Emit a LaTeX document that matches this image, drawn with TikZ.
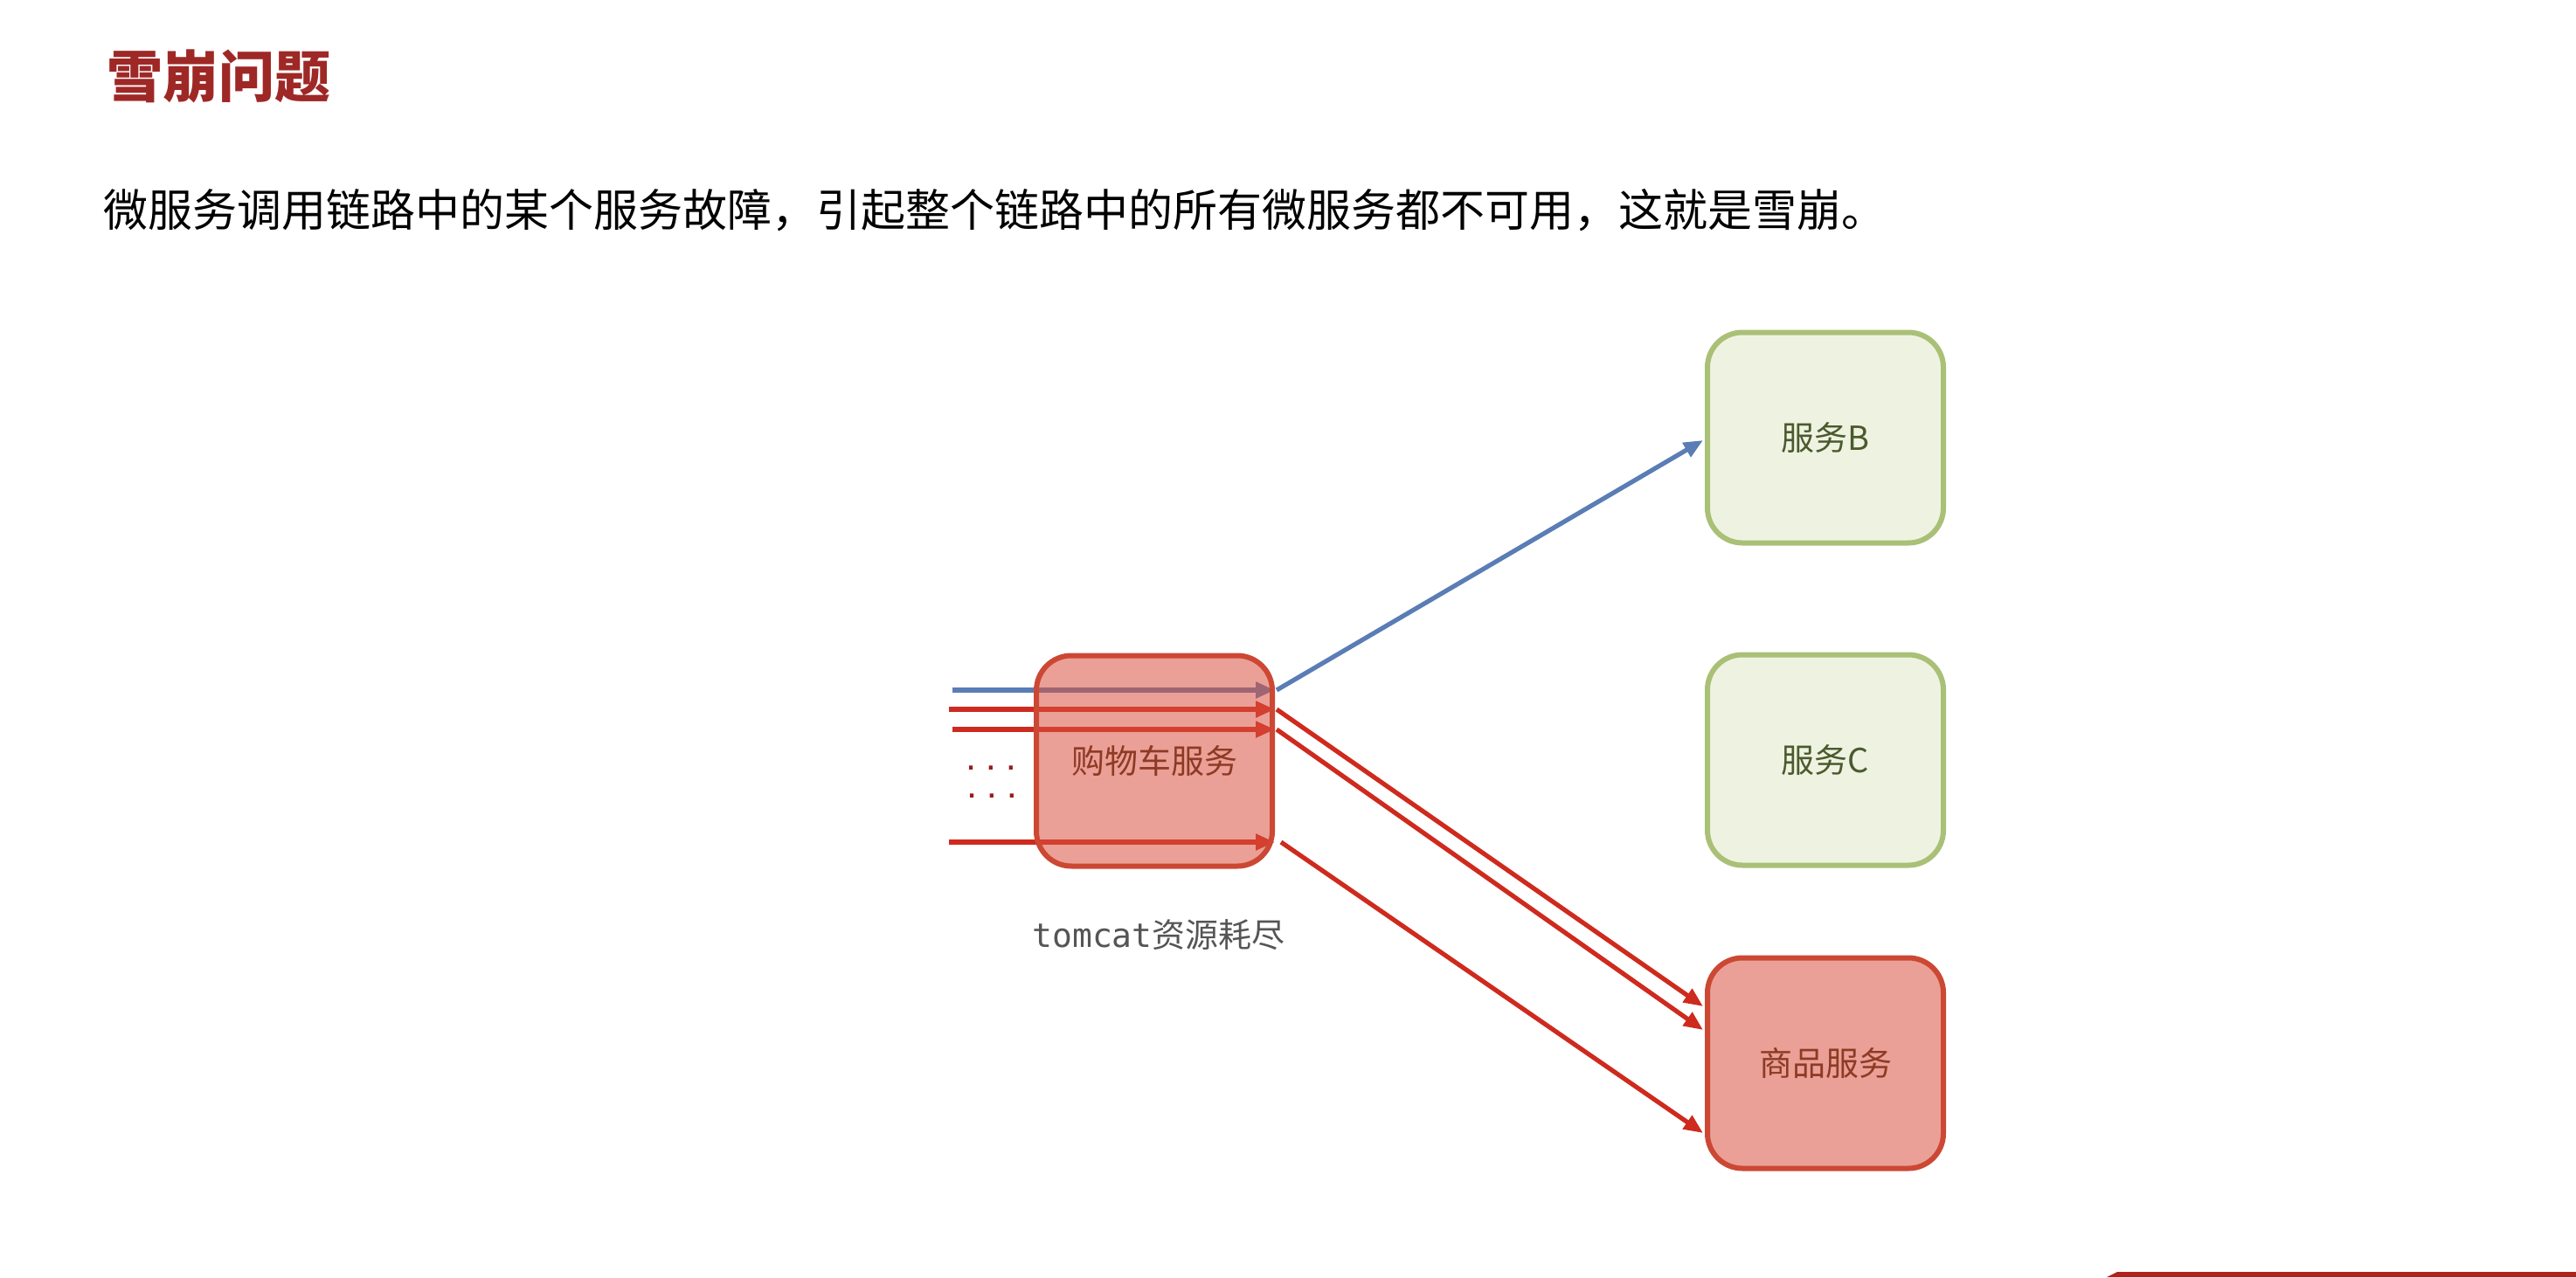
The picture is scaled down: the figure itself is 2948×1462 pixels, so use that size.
\documentclass[tikz,border=0pt]{standalone}
\usepackage{fontspec}
\setmainfont{Noto Sans CJK SC}
\newfontfamily\monofont{DejaVu Sans Mono}
\usetikzlibrary{arrows.meta,calc,backgrounds}
\definecolor{titlered}{RGB}{158,40,38}
\definecolor{cartfill}{RGB}{217,82,64}
\definecolor{cartborder}{RGB}{204,72,52}
\definecolor{carttext}{RGB}{142,58,36}
\definecolor{greenfill}{RGB}{238,243,225}
\definecolor{greenborder}{RGB}{169,192,118}
\definecolor{greentext}{RGB}{75,90,46}
\definecolor{bluearrow}{RGB}{90,125,181}
\definecolor{redarrow}{RGB}{206,42,30}
\definecolor{dotred}{RGB}{150,28,28}
\definecolor{footred}{RGB}{176,35,27}
\newcommand{\dotrow}{.\hspace{3.6pt}.\hspace{3.6pt}.}
\tikzset{
  redbox/.style={draw=cartborder, line width=3pt, rounded corners=20pt,
    fill=cartfill, fill opacity=0.55, text opacity=1, text=carttext,
    minimum width=135pt, minimum height=120.5pt, inner sep=0pt,
    font=\fontsize{19}{22}\selectfont},
  greenbox/.style={draw=greenborder, line width=3pt, rounded corners=20pt,
    fill=greenfill, text=greentext,
    minimum width=135pt, minimum height=120.5pt, inner sep=0pt,
    font=\fontsize{19}{22}\selectfont},
  arr/.style={line width=2.6pt, -{Triangle[length=11pt,width=9pt]}},
  bluearr/.style={arr, draw=bluearrow, fill=bluearrow},
  redarr/.style={arr, draw=redarrow, fill=redarrow},
  dotstyle/.style={anchor=base, inner sep=0pt, text=dotred,
    font=\monofont\bfseries\fontsize{13}{14}\selectfont},
}
\begin{document}
\begin{tikzpicture}[x=0.5pt,y=-0.5pt]
\useasboundingbox (0,0) rectangle (2948,1462);
% title and subtitle
\node[anchor=west, inner sep=0pt, text=titlered, font=\fontsize{32}{36}\selectfont\bfseries] (title) at (122,87) {雪崩问题};
\node[anchor=west, inner sep=0pt, font=\fontsize{25.5}{30}\selectfont] (sub) at (118,241) {微服务调用链路中的某个服务故障，引起整个链路中的所有微服务都不可用，这就是雪崩。};
% boxes
\node[redbox] (cart) at (1321,871) {购物车服务};
\node[greenbox] (svcB) at (2089,501) {服务B};
\node[greenbox] (svcC) at (2089,870) {服务C};
\node[redbox, fill opacity=1, fill={rgb,255:red,234;green,160;blue,150}] (goods) at (2089,1217) {商品服务};
% label
\node[inner sep=0pt, text={rgb,255:red,85;green,85;blue,85}, font=\fontsize{19}{22}\selectfont] (tomcat) at (1326,1070) {{\monofont tomcat}资源耗尽};
% dots
\node[dotstyle] (dots1) at (1134,881) {\dotrow};
\node[dotstyle] (dots2) at (1135,913) {\dotrow};
% incoming requests
\coordinate (in1) at (1090,790);
\coordinate (in2) at (1086,812);
\coordinate (in3) at (1090,835);
\coordinate (in4) at (1086,964);
\begin{pgfonlayer}{background}
\draw[bluearr] (in1) -- ($(cart.east)+(0,-81)$);
\draw[redarr] (in2) -- ($(cart.east)+(0,-59)$);
\draw[redarr] (in3) -- ($(cart.east)+(0,-36)$);
\draw[redarr] (in4) -- ($(cart.east)+(0,93)$);
\end{pgfonlayer}
% outgoing calls
\draw[bluearr] ($(cart.east)+(2,-81)$) -- ($(svcB.west)+(-2,3)$);
\draw[redarr] ($(cart.east)+(2,-59)$) -- ($(goods.west)+(-2,-65)$);
\draw[redarr] ($(cart.east)+(2,-36)$) -- ($(goods.west)+(-2,-38)$);
\draw[redarr] ($(cart.east)+(7,93)$) -- ($(goods.west)+(-2,80)$);
% footer band
\fill[footred] (2411,1462) -- (2423,1456) -- (2948,1456) -- (2948,1462) -- cycle;
\end{tikzpicture}
\end{document}
